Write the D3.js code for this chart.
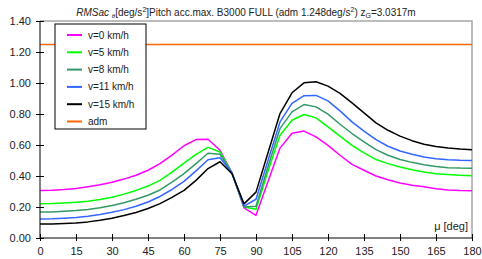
<!DOCTYPE html>
<html>
<head>
<meta charset="utf-8">
<script src="https://cdn.jsdelivr.net/npm/d3@7/dist/d3.min.js"></script>
<style>
  body { margin: 0; background: #fff; }
  text { font-family: "Liberation Sans", Arial, sans-serif; fill: #222; }
</style>
</head>
<body>
<div id="chart"></div>
<script>
// heading angle mu [deg]
var mu = d3.range(0, 181, 5);

var v0  = [0.307,0.308,0.313,0.320,0.330,0.343,0.360,0.380,0.405,0.437,0.480,0.535,0.595,0.635,0.637,0.566,0.420,0.195,0.146,0.365,0.580,0.676,0.690,0.652,0.598,0.534,0.475,0.437,0.400,0.376,0.355,0.340,0.330,0.318,0.310,0.306,0.305];
var v5  = [0.221,0.222,0.226,0.230,0.237,0.248,0.263,0.283,0.307,0.335,0.372,0.425,0.483,0.540,0.585,0.555,0.420,0.200,0.185,0.430,0.663,0.760,0.797,0.775,0.717,0.657,0.598,0.549,0.506,0.480,0.458,0.440,0.426,0.415,0.410,0.405,0.402];
var v8  = [0.167,0.168,0.172,0.177,0.184,0.195,0.210,0.228,0.250,0.276,0.310,0.360,0.415,0.480,0.547,0.540,0.420,0.200,0.205,0.460,0.706,0.814,0.861,0.846,0.799,0.734,0.674,0.620,0.570,0.534,0.506,0.488,0.473,0.462,0.454,0.451,0.450];
var v11 = [0.123,0.124,0.128,0.133,0.140,0.151,0.166,0.183,0.205,0.232,0.268,0.313,0.365,0.433,0.505,0.518,0.420,0.205,0.250,0.500,0.749,0.868,0.918,0.920,0.885,0.820,0.749,0.690,0.635,0.592,0.561,0.540,0.523,0.512,0.505,0.501,0.500];
var v15 = [0.090,0.090,0.093,0.097,0.104,0.115,0.128,0.145,0.165,0.190,0.222,0.262,0.307,0.372,0.448,0.492,0.415,0.220,0.296,0.550,0.803,0.937,1.001,1.008,0.980,0.933,0.872,0.807,0.743,0.695,0.657,0.628,0.605,0.590,0.580,0.574,0.570];
var adm = 1.248;

var seriesNames  = ["v=0 km/h", "v=5 km/h", "v=8 km/h", "v=11 km/h", "v=15 km/h", "adm"];
var seriesColors = ["#ff00ff", "#00ff00", "#339966", "#3366ff", "#000000", "#ff6600"];
var seriesValues = [v0, v5, v8, v11, v15];

var xTicks = d3.range(0, 181, 15);
var yTicks = d3.range(0, 1.41, 0.2);

var width = 482, height = 259;
var margin = {top: 21, right: 10, bottom: 21, left: 40};

var svg = d3.select("#chart").append("svg")
    .attr("width", width)
    .attr("height", height);

var x = d3.scaleLinear().domain([0, 180]).range([margin.left, width - margin.right]);
var y = d3.scaleLinear().domain([0, 1.4]).range([height - margin.bottom, margin.top]);

// frame (top and right in grey)
svg.append("path")
    .attr("d", "M" + x(0) + "," + y(1.4) + "H" + x(180) + "V" + y(0))
    .attr("fill", "none")
    .attr("stroke", "#a6a6a6")
    .attr("stroke-width", 1.5);

// adm line
svg.append("line")
    .attr("x1", x(0)).attr("x2", x(180))
    .attr("y1", y(adm)).attr("y2", y(adm))
    .attr("stroke", seriesColors[5])
    .attr("stroke-width", 1.5);

var line = d3.line()
    .x(function(d, i) { return x(mu[i]); })
    .y(function(d) { return y(d); });

svg.selectAll(".series")
    .data(seriesValues)
  .enter().append("path")
    .attr("class", "series")
    .attr("d", line)
    .attr("fill", "none")
    .attr("stroke", function(d, i) { return seriesColors[i]; })
    .attr("stroke-width", 1.5)
    .attr("stroke-linejoin", "round");

// axes
var yAxis = svg.append("g")
    .attr("transform", "translate(" + x(0) + ",0)")
    .call(d3.axisLeft(y).tickValues(yTicks).tickSize(4).tickFormat(d3.format(".2f")));
yAxis.selectAll(".tick line").attr("x2", 4).attr("x1", -4).attr("stroke", "#000");
yAxis.select(".domain").attr("stroke", "#000").attr("d", "M0," + y(1.4) + "V" + y(0));
yAxis.selectAll(".tick text")
    .attr("x", -9)
    .attr("dy", "0.36em")
    .attr("font-size", "11px")
    .attr("font-family", "Liberation Sans, Arial, sans-serif")
    .attr("fill", "#222");

var xAxis = svg.append("g")
    .attr("transform", "translate(0," + y(0) + ")")
    .call(d3.axisBottom(x).tickValues(xTicks).tickSize(4));
xAxis.selectAll(".tick line").attr("y1", -4).attr("y2", 3).attr("stroke", "#000");
xAxis.select(".domain").attr("stroke", "#000").attr("d", "M" + x(0) + ",0H" + x(180));
xAxis.selectAll(".tick text")
    .attr("y", 9)
    .attr("dy", "0.71em")
    .attr("font-size", "11px")
    .attr("font-family", "Liberation Sans, Arial, sans-serif")
    .attr("fill", "#222");

svg.append("text")
    .attr("x", x(180) - 4)
    .attr("y", y(0) - 8)
    .attr("text-anchor", "end")
    .attr("font-size", "11px")
    .text("\u03bc [deg]");

// title
var title = svg.append("text")
    .attr("x", 246)
    .attr("y", 16)
    .attr("text-anchor", "middle")
    .attr("font-size", "10px");
title.append("tspan").attr("font-style", "italic").text("RMSac ");
title.append("tspan").attr("font-style", "italic").attr("font-size", "6px").attr("dy", 2).text("\u03b8");
title.append("tspan").attr("dy", -2).text("[deg/s");
title.append("tspan").attr("font-size", "7px").attr("dy", -4).text("2");
title.append("tspan").attr("dy", 4).text("]Pitch acc.max. B3000 FULL (adm 1.248deg/s");
title.append("tspan").attr("font-size", "7px").attr("dy", -4).text("2");
title.append("tspan").attr("dy", 4).text(") z");
title.append("tspan").attr("font-size", "7px").attr("dy", 2).text("G");
title.append("tspan").attr("dy", -2).text("=3.0317m");

// legend
var legend = svg.append("g").attr("transform", "translate(55,24)");
legend.append("rect")
    .attr("width", 91).attr("height", 105)
    .attr("fill", "#fff")
    .attr("stroke", "#000")
    .attr("stroke-width", 1);
var item = legend.selectAll(".item")
    .data(seriesNames)
  .enter().append("g")
    .attr("class", "item")
    .attr("transform", function(d, i) { return "translate(0," + (11 + i * 17.3) + ")"; });
item.append("line")
    .attr("x1", 12).attr("x2", 27)
    .attr("stroke", function(d, i) { return seriesColors[i]; })
    .attr("stroke-width", 2);
item.append("text")
    .attr("x", 33)
    .attr("dy", "0.35em")
    .attr("font-size", "10px")
    .text(function(d) { return d; });
</script>
</body>
</html>
